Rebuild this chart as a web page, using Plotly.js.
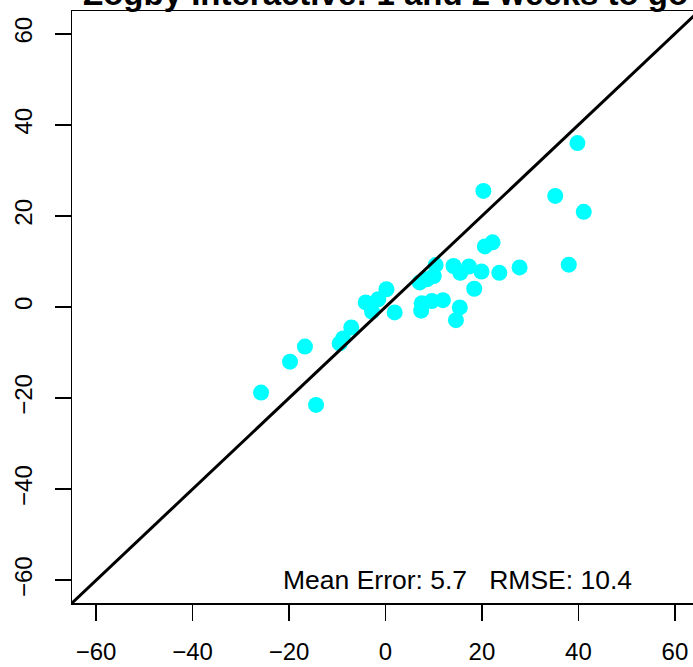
<!DOCTYPE html>
<html>
<head>
<meta charset="utf-8">
<script src="https://cdn.plot.ly/plotly-3.0.1.min.js"></script>
<style>
html,body{margin:0;padding:0;overflow:hidden;background:#fff;width:693px;height:667px;}
#chart{position:absolute;left:0;top:0;}
</style>
</head>
<body>
<div id="chart"></div>
<script>
// Data
const pollX = [-25.8,-19.8,-16.7,-14.4,-9.5,-8.8,-7.1,-4.1,-1.5,-2.8,0.2,1.9,7.1,8.6,10.0,10.4,7.5,7.4,9.6,11.9,14.1,15.5,17.3,14.6,15.4,18.4,19.9,20.6,22.2,20.3,23.6,27.8,35.2,38.0,39.8,41.1];
const pollY = [-18.8,-12.0,-8.7,-21.5,-8.0,-6.9,-4.5,1.0,1.7,-1.0,3.9,-1.2,5.4,6.1,6.8,9.2,0.8,-0.8,1.3,1.5,9.0,7.5,8.9,-2.9,-0.1,4.0,7.8,13.3,14.2,25.5,7.5,8.7,24.4,9.3,36.0,20.9];
const lineX = [-65, 65];
const lineY = [-65, 65];
const tickVals = [-60,-40,-20,0,20,40,60];
const tickText = ["\u221260","\u221240","\u221220","0","20","40","60"];
const titleText = "Zogby Interactive: 1 and 2 weeks to go";
const statsText = "Mean Error: 5.7   RMSE: 10.4";

const font = "Liberation Sans, Arial, Helvetica, sans-serif";

const traces = [
  {x: pollX, y: pollY, type: 'scatter', mode: 'markers',
   marker: {color: '#00FFFF', size: 16, line: {width: 0}}, hoverinfo: 'skip'},
  {x: lineX, y: lineY, type: 'scatter', mode: 'lines',
   line: {color: '#000', width: 3}, hoverinfo: 'skip'}
];

const axisCommon = {
  range: [-65, 65], tickvals: tickVals, ticktext: tickText,
  ticks: 'outside', ticklen: 16, tickwidth: 1.5, tickcolor: '#000',
  showline: true, linecolor: '#000', linewidth: 1.5, mirror: true,
  showgrid: false, zeroline: false,
  tickfont: {family: font, size: 24, color: '#000'}
};

const layout = {
  width: 700, height: 667,
  margin: {l: 72, r: 1, t: 11, b: 64},
  paper_bgcolor: '#fff', plot_bgcolor: '#fff',
  showlegend: false,
  xaxis: Object.assign({}, axisCommon, {ticklabelstandoff: 11}),
  yaxis: Object.assign({}, axisCommon, {tickangle: -90, ticklabelstandoff: 13}),
  annotations: [
    {text: '<b>' + titleText + '</b>', xref: 'paper', yref: 'paper', x: 0.5, y: 1,
     xanchor: 'center', yanchor: 'bottom', showarrow: false, yshift: -3,
     font: {family: font, size: 33, color: '#000'}},
    {text: statsText, xref: 'x', yref: 'y', x: 15, y: -60,
     xanchor: 'center', yanchor: 'middle', showarrow: false,
     font: {family: font, size: 26.5, color: '#000'}}
  ]
};

Plotly.newPlot('chart', traces, layout, {displayModeBar: false, staticPlot: true});
</script>
</body>
</html>
